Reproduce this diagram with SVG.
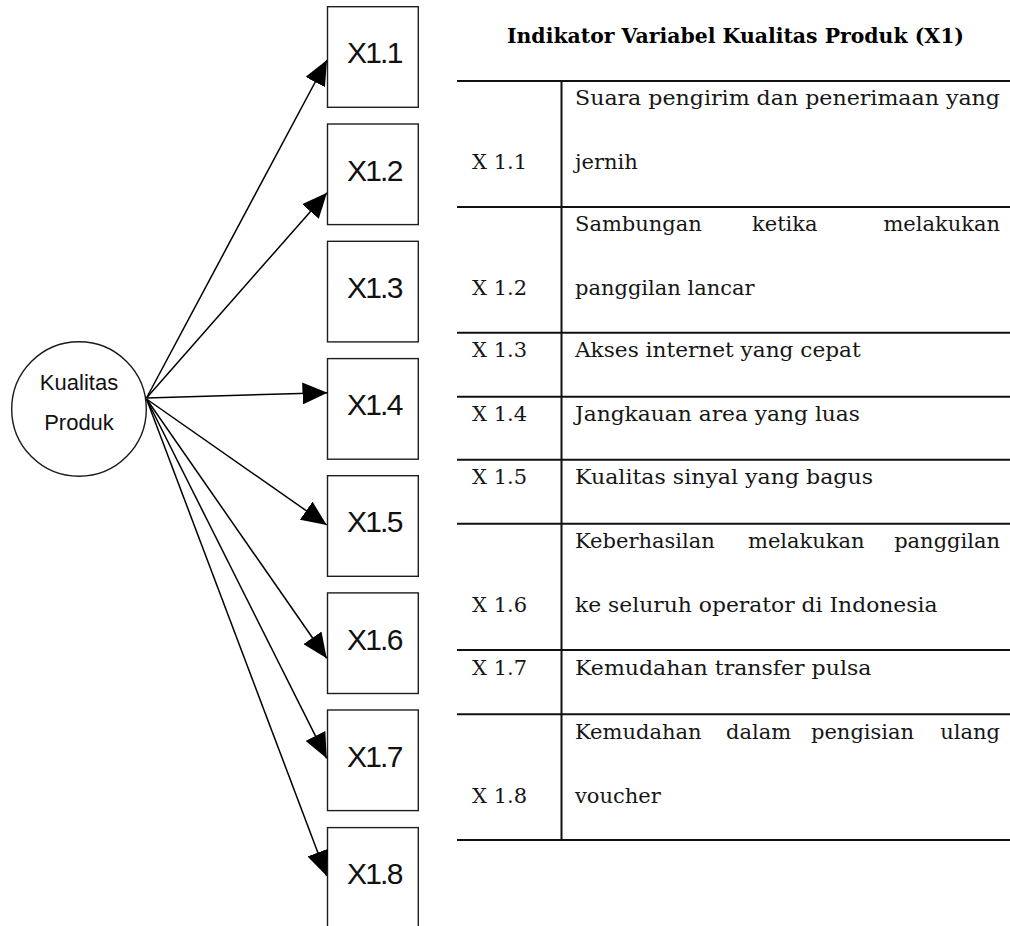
<svg xmlns="http://www.w3.org/2000/svg" width="1010" height="926" viewBox="0 0 1010 926">
  <style>
    .box { fill: #ffffff; stroke: #1e1e1e; stroke-width: 1.4; }
    .latent { fill: #ffffff; stroke: #1a1a1a; stroke-width: 1.4; }
    .blabel { font-family: "Liberation Sans", Arial, sans-serif; font-size: 30px; letter-spacing: -1.8px; fill: #111; }
    .clabel { font-family: "Liberation Sans", Arial, sans-serif; font-size: 22px; fill: #111; text-anchor: middle; }
    .edge { stroke: #000; stroke-width: 1.5; fill: none; marker-end: url(#head); }
    .rule { stroke: #111; stroke-width: 2; }
    .cell { font-family: "DejaVu Serif", "Liberation Serif", serif; font-size: 21px; fill: #161616; }
    .end { text-anchor: end; }
    .title { font-family: "DejaVu Serif", "Liberation Serif", serif; font-size: 19.5px; font-weight: bold; fill: #000; }
  </style>
  <defs>
    <marker id="head" markerUnits="userSpaceOnUse" markerWidth="26" markerHeight="22" refX="25" refY="11" orient="auto">
      <path d="M0,0 L25,11 L0,22 Z" fill="#000"/>
    </marker>
  </defs>

  <rect width="1010" height="926" fill="#ffffff"/>

  <!-- latent construct -->
  <g id="kualitas-produk">
    <circle class="latent" cx="79" cy="409" r="67.3"/>
    <text class="clabel" x="79" y="390">Kualitas</text>
    <text class="clabel" x="79" y="430">Produk</text>
  </g>

  <!-- indicator boxes -->
  <g id="x1-1"><rect class="box" x="327.5" y="6.7" width="90.8" height="100.6"/><text class="blabel" x="347" y="63.3">X1.1</text></g>
  <g id="x1-2"><rect class="box" x="327.5" y="124" width="90.8" height="100.6"/><text class="blabel" x="347" y="180.6">X1.2</text></g>
  <g id="x1-3"><rect class="box" x="327.5" y="241.3" width="90.8" height="100.6"/><text class="blabel" x="347" y="297.9">X1.3</text></g>
  <g id="x1-4"><rect class="box" x="327.5" y="358.6" width="90.8" height="100.6"/><text class="blabel" x="347" y="415">X1.4</text></g>
  <g id="x1-5"><rect class="box" x="327.5" y="475.7" width="90.8" height="100.6"/><text class="blabel" x="347" y="532.3">X1.5</text></g>
  <g id="x1-6"><rect class="box" x="327.5" y="592.9" width="90.8" height="100.6"/><text class="blabel" x="347" y="649.5">X1.6</text></g>
  <g id="x1-7"><rect class="box" x="327.5" y="710" width="90.8" height="100.6"/><text class="blabel" x="347" y="766.6">X1.7</text></g>
  <g id="x1-8"><rect class="box" x="327.5" y="827.6" width="90.8" height="100.6"/><text class="blabel" x="347" y="884.2">X1.8</text></g>

  <!-- loadings from the construct to its indicators -->
  <g id="connectors">
    <line class="edge" x1="146.5" y1="398" x2="327" y2="60"/>
    <line class="edge" x1="146.5" y1="398" x2="327" y2="192.7"/>
    <line class="edge" x1="146.5" y1="398" x2="327.5" y2="392.7"/>
    <line class="edge" x1="146.5" y1="399" x2="326.7" y2="525"/>
    <line class="edge" x1="146.5" y1="399" x2="326.7" y2="658.3"/>
    <line class="edge" x1="146.5" y1="399" x2="326.7" y2="758.3"/>
    <line class="edge" x1="146.5" y1="399" x2="326.7" y2="876"/>
  </g>

  <!-- indicator table -->
  <g id="indicator-table">
    <text class="title" x="507" y="43" textLength="457" lengthAdjust="spacingAndGlyphs">Indikator Variabel Kualitas Produk (X1)</text>

    <g id="table-rules">
      <line class="rule" x1="457" y1="81" x2="1010" y2="81"/>
      <line class="rule" x1="457" y1="207" x2="1010" y2="207"/>
      <line class="rule" x1="457" y1="332.7" x2="1010" y2="332.7"/>
      <line class="rule" x1="457" y1="396.7" x2="1010" y2="396.7"/>
      <line class="rule" x1="457" y1="459.7" x2="1010" y2="459.7"/>
      <line class="rule" x1="457" y1="523.7" x2="1010" y2="523.7"/>
      <line class="rule" x1="457" y1="650" x2="1010" y2="650"/>
      <line class="rule" x1="457" y1="714.3" x2="1010" y2="714.3"/>
      <line class="rule" x1="457" y1="840" x2="1010" y2="840"/>
      <line class="rule" x1="561.5" y1="80" x2="561.5" y2="841"/>
    </g>

    <!-- justified first lines are set word by word, flush left and right, equal gaps -->
    <g id="row-x1-1">
      <text class="cell" x="472" y="169">X 1.1</text>
      <text class="cell" x="575" y="105.2" textLength="425" lengthAdjust="spacingAndGlyphs">Suara pengirim dan penerimaan yang</text>
      <text class="cell" x="575" y="169">jernih</text>
    </g>
    <g id="row-x1-2">
      <text class="cell" x="472" y="295">X 1.2</text>
      <text class="cell" x="575" y="231.2">Sambungan</text>
      <text class="cell" x="752" y="231.2">ketika</text>
      <text class="cell end" x="1000" y="231.2">melakukan</text>
      <text class="cell" x="575" y="295">panggilan lancar</text>
    </g>
    <g id="row-x1-3">
      <text class="cell" x="472" y="357">X 1.3</text>
      <text class="cell" x="575" y="357" textLength="285.7" lengthAdjust="spacingAndGlyphs">Akses internet yang cepat</text>
    </g>
    <g id="row-x1-4">
      <text class="cell" x="472" y="421">X 1.4</text>
      <text class="cell" x="575" y="421" textLength="285" lengthAdjust="spacingAndGlyphs">Jangkauan area yang luas</text>
    </g>
    <g id="row-x1-5">
      <text class="cell" x="472" y="484.2">X 1.5</text>
      <text class="cell" x="575" y="484.2" textLength="298" lengthAdjust="spacingAndGlyphs">Kualitas sinyal yang bagus</text>
    </g>
    <g id="row-x1-6">
      <text class="cell" x="472" y="612">X 1.6</text>
      <text class="cell" x="575" y="548.2">Keberhasilan</text>
      <text class="cell" x="748" y="548.2">melakukan</text>
      <text class="cell end" x="1000" y="548.2">panggilan</text>
      <text class="cell" x="575" y="612" textLength="362.5" lengthAdjust="spacingAndGlyphs">ke seluruh operator di Indonesia</text>
    </g>
    <g id="row-x1-7">
      <text class="cell" x="472" y="675">X 1.7</text>
      <text class="cell" x="575" y="675" textLength="296.4" lengthAdjust="spacingAndGlyphs">Kemudahan transfer pulsa</text>
    </g>
    <g id="row-x1-8">
      <text class="cell" x="472" y="802.5">X 1.8</text>
      <text class="cell" x="575" y="738.8">Kemudahan</text>
      <text class="cell" x="726" y="738.8">dalam</text>
      <text class="cell" x="811" y="738.8">pengisian</text>
      <text class="cell end" x="1000" y="738.8">ulang</text>
      <text class="cell" x="575" y="802.5">voucher</text>
    </g>
  </g>
</svg>
